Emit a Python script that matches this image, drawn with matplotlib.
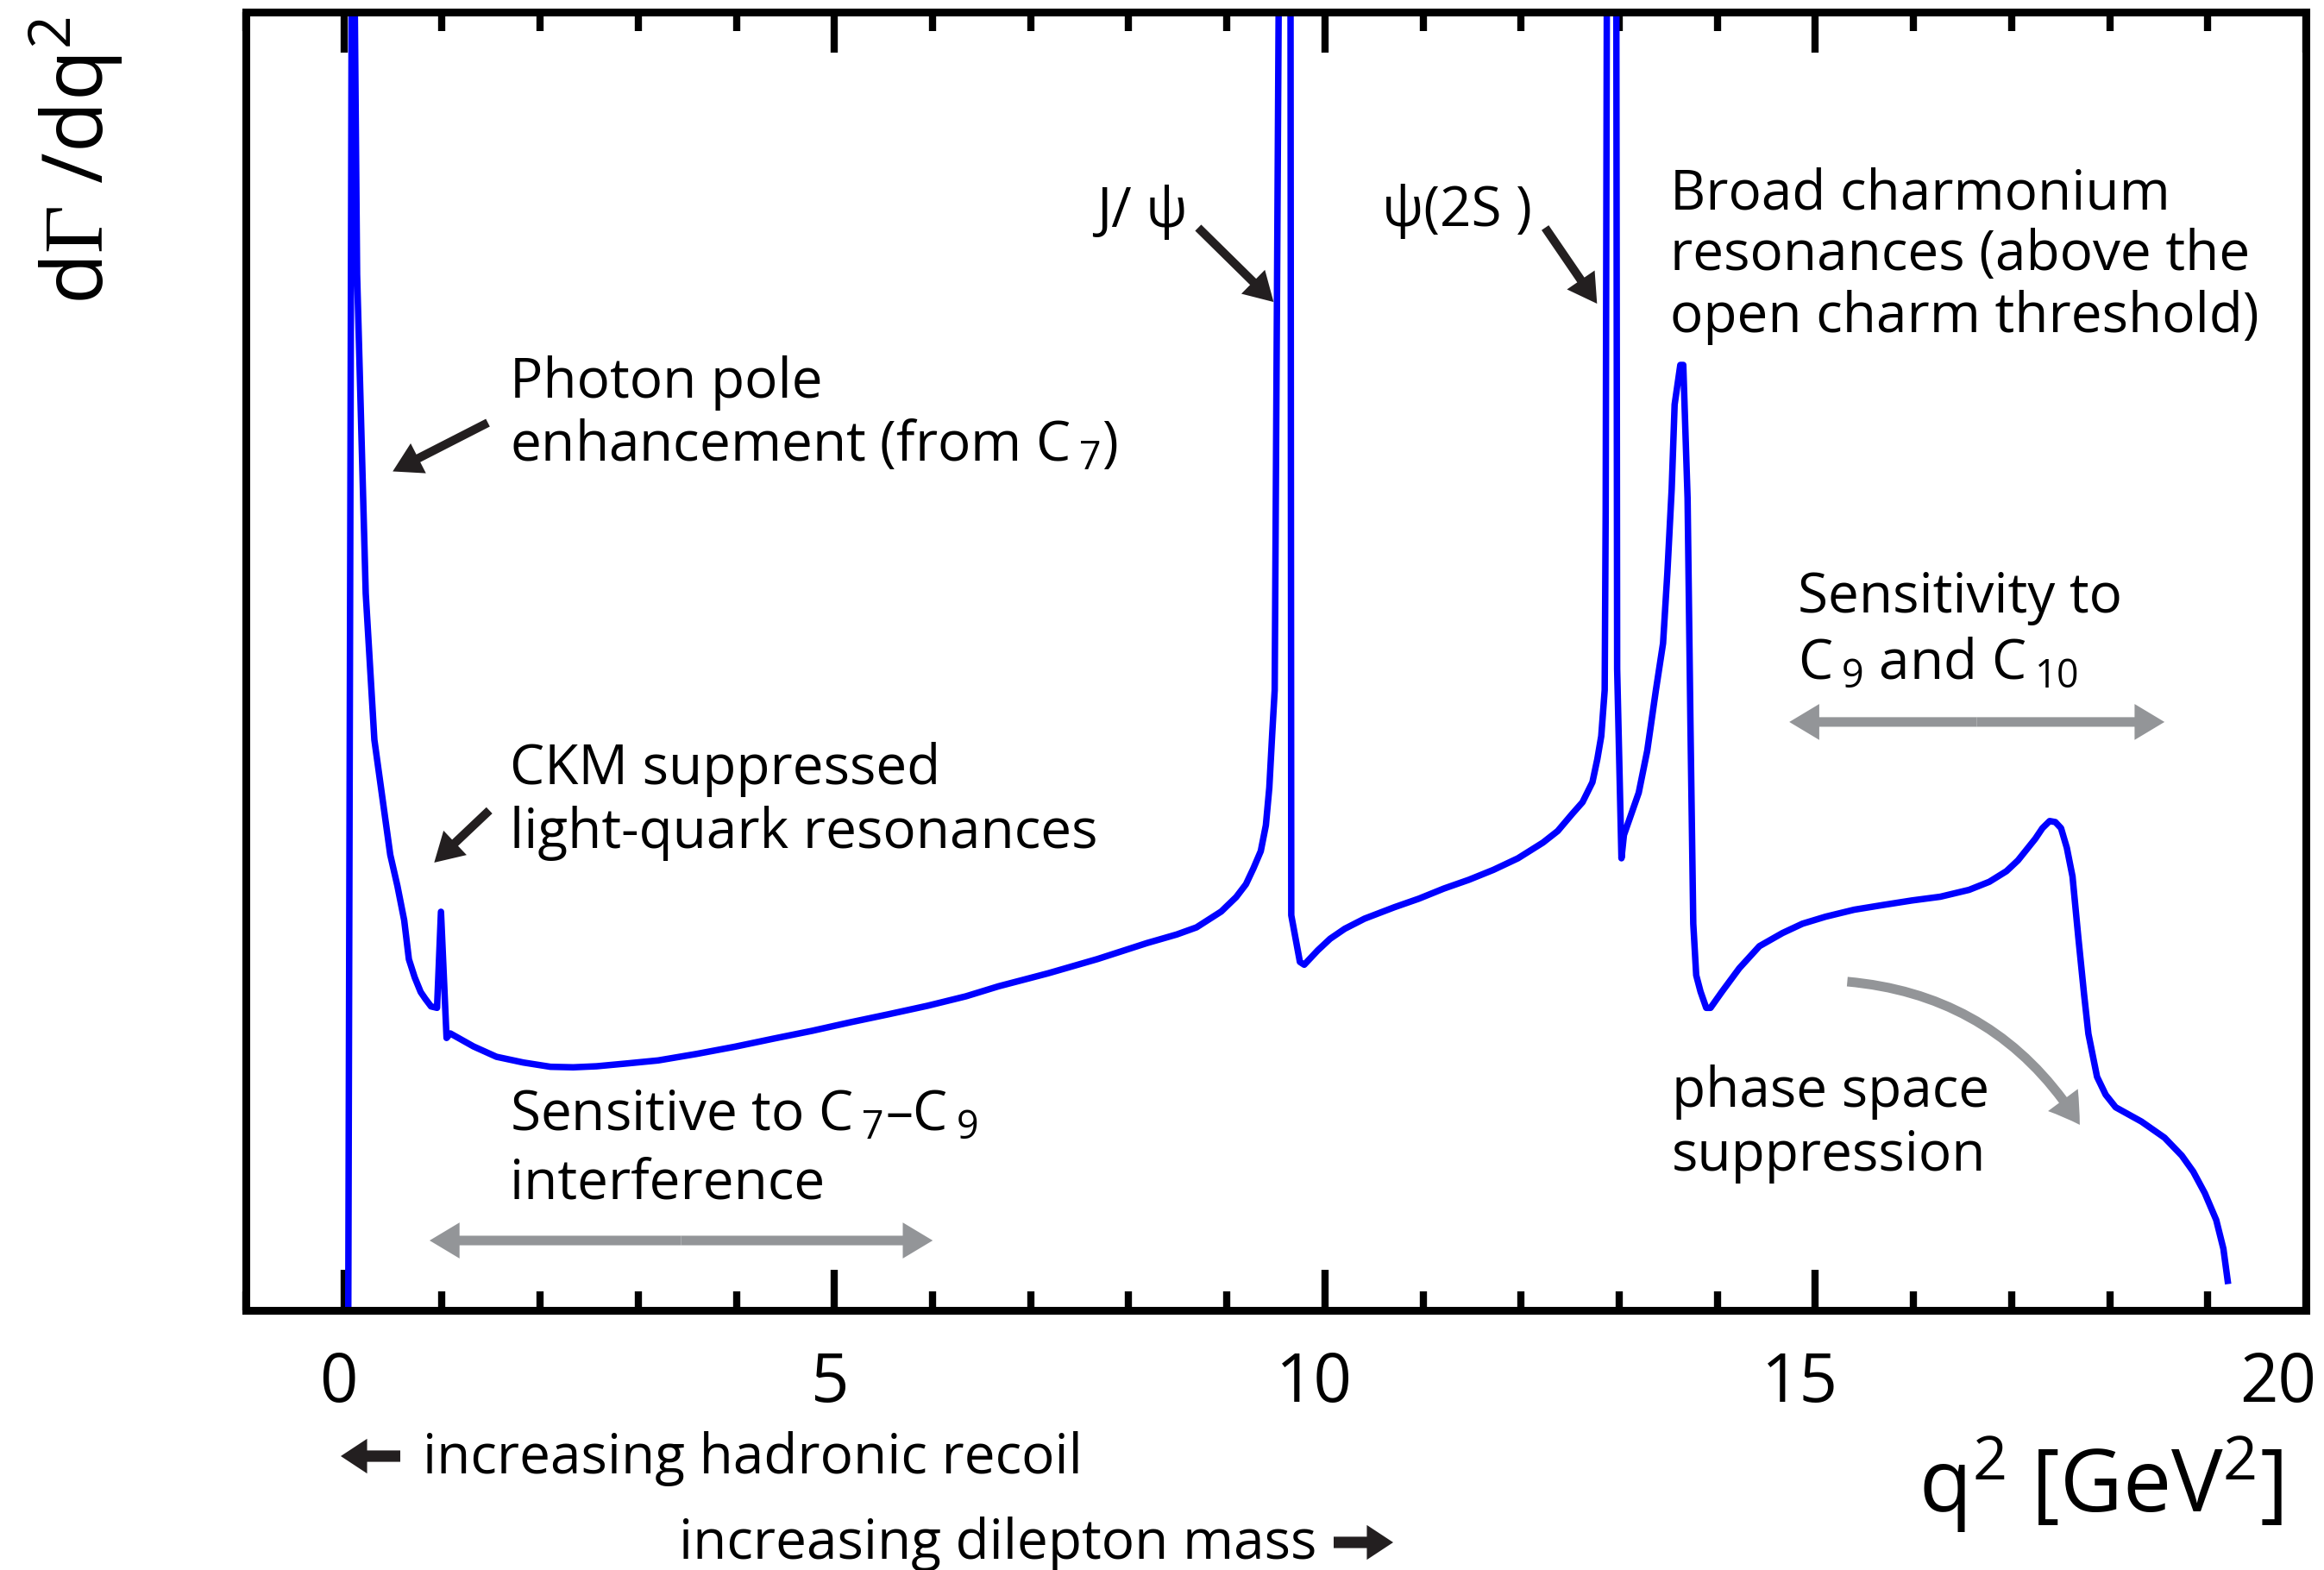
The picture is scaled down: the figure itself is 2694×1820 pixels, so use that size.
import matplotlib
matplotlib.use('Agg')
import matplotlib.pyplot as plt
import matplotlib.transforms as mtransforms
from matplotlib.patches import FancyArrowPatch
from matplotlib.ticker import MultipleLocator, FixedLocator

plt.rcParams['font.family'] = ['Open Sans', 'DejaVu Sans']
plt.rcParams['mathtext.fontset'] = 'custom'
plt.rcParams['mathtext.rm'] = 'Open Sans'
plt.rcParams['mathtext.it'] = 'Open Sans:italic'
plt.rcParams['mathtext.bf'] = 'Open Sans:bold'
plt.rcParams['mathtext.sf'] = 'Liberation Serif'

# differential rate (arbitrary units) against q^2 in GeV^2
q2 = [
    0.044, 0.080, 0.105, 0.134, 0.222, 0.310, 0.472, 0.545, 0.614, 0.662,
    0.721, 0.782, 0.830, 0.888, 0.949, 0.989, 1.046, 1.084, 1.320, 1.555,
    1.828, 2.105, 2.337, 2.575, 2.889, 3.203, 3.594, 3.988, 4.380, 4.772,
    5.164, 5.554, 5.949, 6.341, 6.673, 7.178, 7.682, 8.186, 8.489, 8.691,
    8.943, 9.095, 9.195, 9.271, 9.346, 9.398, 9.433, 9.463, 9.488, 9.532,
    9.649, 9.657, 9.745, 9.789, 9.927, 10.053, 10.202, 10.404, 10.708, 10.958,
    11.213, 11.466, 11.718, 11.968, 12.223, 12.373, 12.522, 12.626, 12.727, 12.777,
    12.817, 12.852, 12.862, 12.875, 12.970, 12.979, 13.023, 13.048, 13.199, 13.286,
    13.374, 13.447, 13.491, 13.535, 13.565, 13.623, 13.653, 13.697, 13.726, 13.755,
    13.785, 13.829, 13.887, 13.931, 14.048, 14.224, 14.429, 14.664, 14.868, 15.103,
    15.396, 15.688, 15.982, 16.274, 16.567, 16.773, 16.948, 17.065, 17.153, 17.241,
    17.314, 17.388, 17.446, 17.504, 17.563, 17.621, 17.680, 17.739, 17.783, 17.871,
    17.959, 18.061, 18.324, 18.559, 18.735, 18.852, 18.970, 19.086, 19.159, 19.203,
]
rate = [
    0.0, 105, 105, 79.79, 55.22, 43.95, 35.09, 32.69, 30.05, 27.04,
    25.65, 24.52, 23.99, 23.41, 23.30, 30.70, 20.98, 21.33, 20.33, 19.53,
    19.09, 18.76, 18.72, 18.80, 19.02, 19.25, 19.75, 20.31, 20.93, 21.53,
    22.19, 22.81, 23.46, 24.19, 24.96, 25.96, 27.06, 28.29, 28.95, 29.50,
    30.72, 31.83, 32.82, 34.04, 35.37, 37.36, 40.25, 44.45, 47.77, 105,
    105, 30.43, 26.84, 26.62, 27.73, 28.62, 29.39, 30.17, 31.05, 31.71,
    32.49, 33.16, 33.93, 34.82, 36.03, 36.92, 38.25, 39.14, 40.68, 42.46,
    44.23, 47.77, 61.46, 105, 105, 49.40, 34.82, 36.61, 39.87, 43.12,
    47.77, 51.38, 56.81, 63.27, 69.77, 72.82, 72.82, 62.55, 45.26, 29.78,
    25.81, 24.55, 23.30, 23.30, 24.55, 26.35, 28.05, 29.06, 29.78, 30.32,
    30.86, 31.22, 31.57, 31.86, 32.39, 33.01, 33.83, 34.66, 35.49, 36.32,
    37.14, 37.69, 37.61, 37.14, 35.63, 33.42, 28.74, 24.33, 21.30, 17.99,
    16.61, 15.64, 14.54, 13.30, 11.92, 10.68, 9.02, 6.96, 4.75, 2.27,
]

major_ticks = [0, 5, 10, 15, 20]
tick_labels = ['0', '5', '10', '15', '20']
label_shift_px = [-6, -5, -12, -18, -32]

ink = '#231f20'
grey = '#939598'
fs = 46
W, H = 2694, 1820

fig = plt.figure(figsize=(W / 100, H / 100), dpi=100)
ax = fig.add_axes([285 / W, 1 - 1519 / H, (2673 - 285) / W, (1519 - 14) / H])

ax.plot(q2, rate, color='#0000ff', lw=5.4)

ax.set_xlim(-1, 20)
ax.set_ylim(0, 100)
ax.xaxis.set_major_locator(FixedLocator(major_ticks))
ax.xaxis.set_minor_locator(MultipleLocator(1))
ax.set_xticklabels(tick_labels)
ax.set_yticks([])
ax.tick_params(axis='x', which='both', direction='in', top=True, bottom=True,
               width=6, color='black')
ax.tick_params(axis='x', which='major', length=34, pad=33, labelsize=56)
ax.tick_params(axis='x', which='minor', length=16)
for sp in ax.spines.values():
    sp.set_linewidth(6.5)

for lab, dx in zip(ax.xaxis.get_majorticklabels(), label_shift_px):
    lab.set_transform(lab.get_transform() +
                      mtransforms.ScaledTranslation(dx / 100, 0, fig.dpi_scale_trans))


def text_block(x, y0, lines, gap=4.9):
    for i, s in enumerate(lines):
        ax.text(x, y0 - i * gap, s, fontsize=fs, ha='left', va='baseline')


def pointer(tail, tip, color=ink, tw=7.2, hw=28, hl=24, **kw):
    style = f'simple,head_length={hl},head_width={hw},tail_width={tw}'
    arr = FancyArrowPatch(tail, tip, arrowstyle=style, mutation_scale=1,
                          color=color, lw=0, shrinkA=0, shrinkB=0, **kw)
    return arr


def span(x0, x1, y):
    mid = (x0 + x1) / 2
    for end in (x0, x1):
        ax.add_patch(pointer((mid, y), (end, y), color=grey, tw=8, hw=30, hl=25))


# annotations inside the frame
text_block(1.69, 70.3, ['Photon pole', r'enhancement (from C$\,_7$)'])
ax.add_patch(pointer((1.467, 68.37), (0.497, 64.62)))

text_block(1.69, 40.5, ['CKM suppressed', 'light-quark resonances'], gap=4.86)
ax.add_patch(pointer((1.482, 38.51), (0.92, 34.49)))

text_block(1.69, 13.9, [r'Sensitive to C$\,_7$–C$\,_9$', 'interference'], gap=5.3)
span(0.873, 6.002, 5.38)

ax.text(7.671, 83.46, 'J/ ψ', fontsize=fs, ha='left', va='baseline')
ax.add_patch(pointer((8.708, 83.39), (9.477, 77.67)))

ax.text(10.58, 83.52, 'ψ(2S )', fontsize=fs, ha='left', va='baseline')
ax.add_patch(pointer((12.245, 83.39), (12.774, 77.54)))

text_block(13.515, 84.85, ['Broad charmonium', 'resonances (above the',
                           'open charm threshold)'], gap=4.75)

text_block(14.824, 53.75, ['Sensitivity to', r'C$\,_9$ and C$\,_{10}$'], gap=5.1)
span(14.734, 18.559, 45.32)

text_block(13.533, 15.68, ['phase space', 'suppression'], gap=4.92)
ax.add_patch(pointer((15.325, 25.32), (17.695, 14.29), color=grey, tw=8, hw=31, hl=25,
                     connectionstyle='arc3,rad=-0.25'))

# axis titles and direction hints below the frame
fig.text(31.6 / W, 1 - 19 / H, r'd$\mathsf{\Gamma}$ /dq$^2$', rotation=90,
         ha='left', va='top', fontsize=70)
fig.text(2646 / W, 1 - 1753 / H, r'q$^2$ [GeV$^2$]', ha='right', va='baseline',
         fontsize=72)
fig.text(490 / W, 1 - 1708 / H, 'increasing hadronic recoil', fontsize=fs,
         va='baseline')
fig.text(787 / W, 1 - 1807 / H, 'increasing dilepton mass', fontsize=fs,
         va='baseline')
for tail, tip in [((464, 1688), (395, 1688)), ((1546, 1788), (1615, 1788))]:
    fig.add_artist(pointer((tail[0] / W, 1 - tail[1] / H), (tip[0] / W, 1 - tip[1] / H),
                           tw=9.5, hw=29, hl=22, transform=fig.transFigure))

fig.savefig('out.png', dpi=100)
